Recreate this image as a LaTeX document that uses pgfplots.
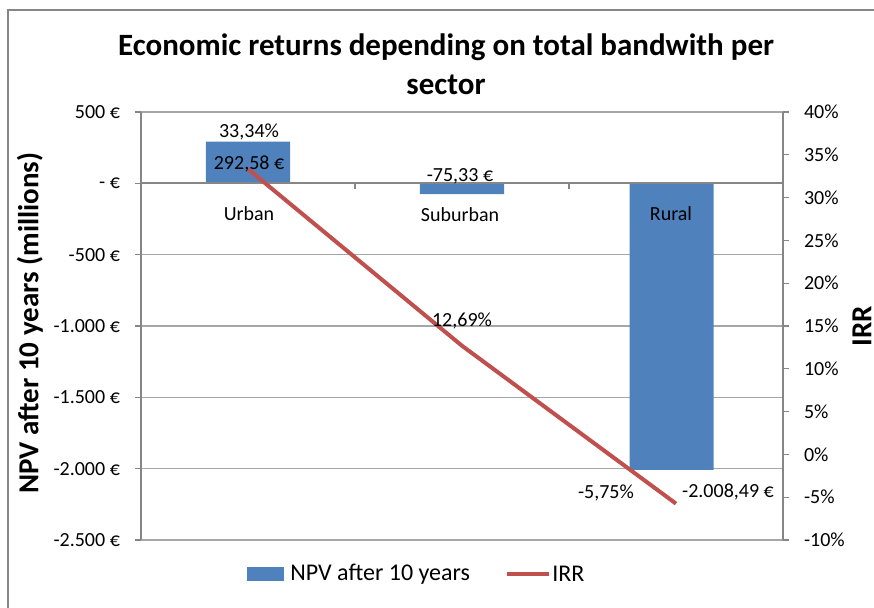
\documentclass[border=0pt]{standalone}
\usepackage{pgfplots}
\pgfplotsset{compat=1.18}
\usepackage{fontspec}
\setmainfont{Carlito}
\definecolor{barblue}{HTML}{4F81BD}
\definecolor{linered}{HTML}{C0504D}
\definecolor{gridgray}{HTML}{A6A6A6}
\definecolor{axisgray}{HTML}{868686}
\begin{document}
\begin{tikzpicture}[x=0.5pt,y=0.5pt]
\useasboundingbox (0,0) rectangle (874,607);
\fill[white] (0,0) rectangle (874,607);
\draw[axisgray, line width=0.9pt] (8,-10) -- (8,597) -- (890,597);
\begin{axis}[at={(70.5pt,33.5pt)}, anchor=south west, scale only axis,
  width=321pt, height=214pt,
  xmin=-0.5, xmax=2.5, ymin=-2500, ymax=500,
  xtick=\empty,
  ytick={-2500,-2000,...,500},
  yticklabels={-2.500 €,-2.000 €,-1.500 €,-1.000 €,-500 €,- €,500 €},
  axis y line*=left, axis x line=none,
  axis line style={axisgray, line width=1pt},
  y axis line style={-},
  ymajorgrids, grid style={gridgray, line width=0.6pt},
  tick align=outside, major tick length=3pt,
  tick style={axisgray, line width=0.6pt},
  yticklabel style={font=\fontsize{10}{12}\selectfont, xshift=-4pt},
  clip=false]
\addplot[ybar, bar width=42pt, fill=barblue, draw=none] coordinates {(0,292.58) (1,-75.33) (1.98,-2008.49)};
\draw[axisgray, line width=1pt] (axis cs:-0.5,0) -- (axis cs:2.5,0);
\draw[axisgray, line width=0.6pt] (axis cs:0.5,0) -- ++(0pt,-3pt);
\draw[axisgray, line width=0.6pt] (axis cs:1.5,0) -- ++(0pt,-3pt);
\end{axis}
\begin{axis}[at={(70.5pt,33.5pt)}, anchor=south west, scale only axis,
  width=321pt, height=214pt,
  xmin=-0.5, xmax=2.5, ymin=-10, ymax=40,
  xtick=\empty,
  ytick={-10,-5,...,40},
  yticklabels={-10\%,-5\%,0\%,5\%,10\%,15\%,20\%,25\%,30\%,35\%,40\%},
  axis y line*=right, axis x line=none,
  axis line style={axisgray, line width=1pt},
  y axis line style={-},
  tick align=outside, major tick length=3pt,
  tick style={axisgray, line width=0.6pt},
  yticklabel style={font=\fontsize{10}{12}\selectfont, xshift=4pt},
  clip=false]
\addplot[linered, line width=2pt] coordinates {(0,33.34) (1,12.69) (2,-5.75)};
\end{axis}
\begin{scope}[font=\fontsize{10}{12}\selectfont]
\node at (249,607-132) {33,34\%};
\node at (249,607-164) {292,58 €};
\node at (460,607-176) {-75,33 €};
\node at (462,607-321) {12,69\%};
\node at (606,607-493) {-5,75\%};
\node at (728,607-492) {-2.008,49 €};
\node at (249,607-214) {Urban};
\node at (460,607-215) {Suburban};
\node at (671,607-214) {Rural};
\end{scope}
\node[font=\bfseries\fontsize{15.5}{18}\selectfont] at (446,607-47) {Economic returns depending on total bandwith per};
\node[font=\bfseries\fontsize{15.5}{18}\selectfont] at (446,607-85) {sector};
\node[font=\bfseries\fontsize{14.5}{17}\selectfont, rotate=90] at (30,607-323) {NPV after 10 years (millions)};
\node[font=\bfseries\fontsize{14.5}{17}\selectfont, rotate=90, inner sep=0pt] at (862,607-326) {IRR};
\fill[barblue] (247,607-567) rectangle (284,607-581);
\node[anchor=west, font=\fontsize{12}{14}\selectfont, inner sep=0pt] at (290,607-574) {NPV after 10 years};
\draw[linered, line width=2pt] (507,607-574) -- (549,607-574);
\node[anchor=west, font=\fontsize{12}{14}\selectfont, inner sep=0pt] at (552,607-574) {IRR};
\end{tikzpicture}
\end{document}
